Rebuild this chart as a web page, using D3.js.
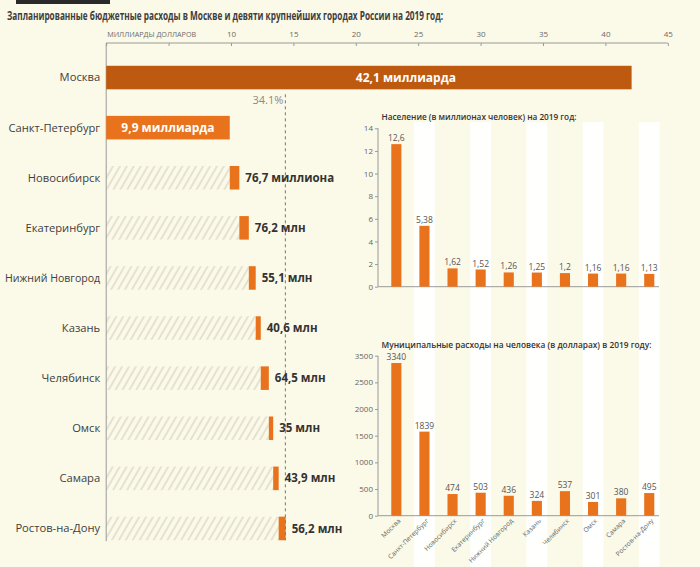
<!DOCTYPE html>
<html><head><meta charset="utf-8">
<script src="https://cdn.jsdelivr.net/npm/d3@7"></script>
<style>
html,body{margin:0;padding:0;background:#fbf9e8;}
svg{display:block;font-family:"Open Sans",sans-serif;}
</style></head>
<body>
<svg id="chart" width="700" height="567"></svg>
<script>
// ---------- DATA ----------
const title = "Запланированные бюджетные расходы в Москве и девяти крупнейших городах России на 2019 год:";
const cities = ["Москва","Санкт-Петербург","Новосибирск","Екатеринбург","Нижний Новгород","Казань","Челябинск","Омск","Самара","Ростов-на-Дону"];
const budgetBillions = [42.1, 9.9];            // Москва, Санкт-Петербург (млрд $)
const budgetMillions = [76.7, 76.2, 55.1, 40.6, 64.5, 35, 43.9, 56.2]; // остальные (млн $)
const budgetLabels = ["42,1 миллиарда","9,9 миллиарда","76,7 миллиона","76,2 млн","55,1 млн","40,6 млн","64,5 млн","35 млн","43,9 млн","56,2 млн"];
const topTicks = [0,5,10,15,20,25,30,35,40,45];
const topAxisTitle = "МИЛЛИАРДЫ ДОЛЛАРОВ";
const sharePct = 34.1;
const shareLabel = "34.1%";
const magnify = 10; // small bars drawn 10x

const popTitle = "Население (в миллионах человек) на 2019 год:";
const population = [12.6, 5.38, 1.62, 1.52, 1.26, 1.25, 1.2, 1.16, 1.16, 1.13];
const popLabels = ["12,6","5,38","1,62","1,52","1,26","1,25","1,2","1,16","1,16","1,13"];
const popTicks = [0,2,4,6,8,10,12,14];

const spendTitle = "Муниципальные расходы на человека (в долларах) в 2019 году:";
const spending = [3340, 1839, 474, 503, 436, 324, 537, 301, 380, 495];
const spendTickLabels = ["0","500","1000","1500","2000","2500","3500"];

// ---------- STYLE ----------
const C = {bg:"#fbf9e8", dark:"#bd5a10", orange:"#e8731c", text:"#404040", grey:"#7a7a7a", axis:"#9a9a9a", hatch:"#d9d5c6"};

const svg = d3.select("#chart");
svg.append("rect").attr("width",700).attr("height",567).attr("fill",C.bg);
svg.append("rect").attr("x",16).attr("y",0).attr("width",94).attr("height",4).attr("fill","#2a2a2a");

svg.append("text").attr("x",7).attr("y",20).text(title)
  .attr("font-size",13).attr("font-weight",700).attr("fill","#3d3d3d")
  .attr("textLength",436).attr("lengthAdjust","spacingAndGlyphs");

const defs = svg.append("defs");
const pat = defs.append("pattern").attr("id","hatch").attr("patternUnits","userSpaceOnUse")
  .attr("width",6).attr("height",6).attr("patternTransform","rotate(30)");
pat.append("line").attr("x1",1).attr("y1",0).attr("x2",1).attr("y2",6)
  .attr("stroke",C.hatch).attr("stroke-width",1.3);

// ---------- LEFT CHART ----------
const x = d3.scaleLinear().domain([0,45]).range([106.2,667.8]);
const y = d3.scaleBand().domain(cities).range([52.5,553.5]).paddingInner(0.53).paddingOuter(0.265);
const bw = y.bandwidth();

const rows = cities.map((c,i)=>{
  if(i<2) return {c, start:0, end:budgetBillions[i], label:budgetLabels[i], big:true};
  return {c, label:budgetLabels[i], big:false, v:budgetMillions[i-2]};
});
let cum = budgetBillions[1];
rows.forEach(r=>{ if(!r.big){ r.start=cum; r.end=cum + r.v/1000*magnify; cum=r.end; } });

// top axis
const topAxis = d3.axisTop(x).tickValues(topTicks).tickSize(-3).tickPadding(6)
  .tickFormat(d=> d<10 ? "" : d);
const gTop = svg.append("g").attr("transform","translate(0,43)").call(topAxis);
gTop.select(".domain").attr("stroke",C.axis).attr("d",`M${x(0)},0H${x(45)}`);
gTop.selectAll(".tick line").attr("stroke",C.axis);
gTop.selectAll(".tick text").attr("font-size",8).attr("fill","#6a6a6a").attr("font-family","Open Sans");
svg.append("text").attr("x",x(0)+1).attr("y",37).text(topAxisTitle)
  .attr("font-size",6.5).attr("fill","#6a6a6a").attr("textLength",89).attr("lengthAdjust","spacingAndGlyphs");

// hatch
svg.selectAll(".hatch").data(rows.filter(r=>!r.big)).join("rect")
  .attr("x",x(0)).attr("y",d=>y(d.c)).attr("width",d=>x(d.start)-x(0)).attr("height",bw)
  .attr("fill","url(#hatch)");

// left vertical axis line
svg.append("line").attr("x1",x(0)).attr("x2",x(0)).attr("y1",43).attr("y2",y(cities[9])+bw+1)
  .attr("stroke",C.axis).attr("stroke-width",1);

// bars
svg.selectAll(".bar").data(rows).join("rect")
  .attr("x",d=>x(d.start)).attr("y",d=>y(d.c)).attr("width",d=>x(d.end)-x(d.start)).attr("height",bw)
  .attr("fill",(d,i)=> i===0 ? C.dark : C.orange);

// dashed share line
const shareX = x(budgetBillions[0]*sharePct/100);
svg.append("line").attr("x1",shareX).attr("x2",shareX).attr("y1",y(cities[0])+bw+5).attr("y2",y(cities[9])+bw)
  .attr("stroke","#777").attr("stroke-width",1).attr("stroke-dasharray","3,3");
svg.append("text").attr("x",shareX-2).attr("y",y(cities[0])+bw+15).attr("text-anchor","end")
  .text(shareLabel).attr("font-size",11).attr("fill","#8a8a8a");

// city labels
const labelMax = x(0)-6-5;
svg.selectAll(".city").data(rows).join("text")
  .attr("x",x(0)-6).attr("y",d=>y(d.c)+bw/2).attr("dy","0.35em").attr("text-anchor","end")
  .text(d=>d.c).attr("font-size",11.2).attr("fill",C.text)
  .each(function(){
    if(this.getComputedTextLength()>labelMax){
      d3.select(this).attr("textLength",labelMax).attr("lengthAdjust","spacingAndGlyphs");
    }
  });

// value labels
svg.selectAll(".val").data(rows).join("text")
  .attr("x",(d,i)=> i===0 ? x(20) : d.big ? (x(d.start)+x(d.end))/2 : x(d.end)+6)
  .attr("y",d=>y(d.c)+bw/2).attr("dy","0.36em")
  .attr("text-anchor",(d,i)=> i===1 ? "middle" : "start")
  .text(d=>d.label).attr("font-size",d=>d.big?12:11.5).attr("font-weight",700)
  .attr("fill",d=>d.big?"#fff":"#333");

// ---------- RIGHT CHARTS ----------
const px = d3.scaleBand().domain(cities).range([382.3,663.3]).paddingInner(0.64).paddingOuter(0.32);
const pbw = px.bandwidth();
const axisLeftX = 378, axisRightX = 659;

// stripes behind every second bar
svg.selectAll(".stripe").data(cities.filter((c,i)=>i%2===1)).join("rect")
  .attr("x",c=>px(c)+pbw/2-10.5).attr("y",122).attr("width",21).attr("height",445)
  .attr("fill","#ffffff").attr("opacity",0.88);

function panel(values, labels, yScale, tickVals, tickFmt, ttl, ttlY, ttlLen, showX){
  svg.append("text").attr("x",381.5).attr("y",ttlY).text(ttl)
    .attr("font-size",8.5).attr("font-weight",600).attr("fill","#333")
    .attr("textLength",ttlLen).attr("lengthAdjust","spacingAndGlyphs");
  const g = svg.append("g").attr("transform",`translate(${axisLeftX},0)`)
    .call(d3.axisLeft(yScale).tickValues(tickVals).tickFormat(tickFmt).tickSize(3).tickPadding(2));
  g.select(".domain").attr("stroke",C.axis).attr("d",`M0,${yScale.range()[1]}V${yScale.range()[0]}`);
  g.selectAll(".tick line").attr("stroke",C.axis);
  g.selectAll(".tick text").attr("font-size",8).attr("fill","#666").attr("font-family","Open Sans");
  const base = yScale(0);
  svg.append("line").attr("x1",axisLeftX).attr("x2",axisRightX).attr("y1",base).attr("y2",base)
    .attr("stroke",C.axis);
  svg.selectAll(null).data(values).join("rect")
    .attr("x",(d,i)=>px(cities[i])).attr("width",pbw)
    .attr("y",d=>yScale(d)).attr("height",d=>base-yScale(d)).attr("fill",C.orange);
  svg.selectAll(null).data(values).join("text")
    .attr("x",(d,i)=>px(cities[i])+pbw/2).attr("y",d=>yScale(d)-3).attr("text-anchor","middle")
    .text((d,i)=>labels[i]).attr("font-size",8.5).attr("fill","#555");
  if(showX){
    svg.selectAll(null).data(cities).join("text")
      .attr("transform",c=>`translate(${px(c)+pbw/2+3},${base+4}) rotate(-45)`)
      .attr("text-anchor","end").attr("dy","0.35em")
      .text(c=>c).attr("font-size",6.6).attr("fill","#666");
  }
}

const yPop = d3.scaleLinear().domain([0,14]).range([286.7,128.3]);
panel(population, popLabels, yPop, popTicks, d=>d, popTitle, 119.5, 195, false);

const ySp = d3.scaleLinear().domain([0,3500]).range([515.7,355.7]);
const spTickVals = spendTickLabels.map((t,i)=> i*3500/(spendTickLabels.length-1));
panel(spending, spending.map(String), ySp, spTickVals, (d,i)=>spendTickLabels[i], spendTitle, 348, 270, true);
</script>
</body></html>
